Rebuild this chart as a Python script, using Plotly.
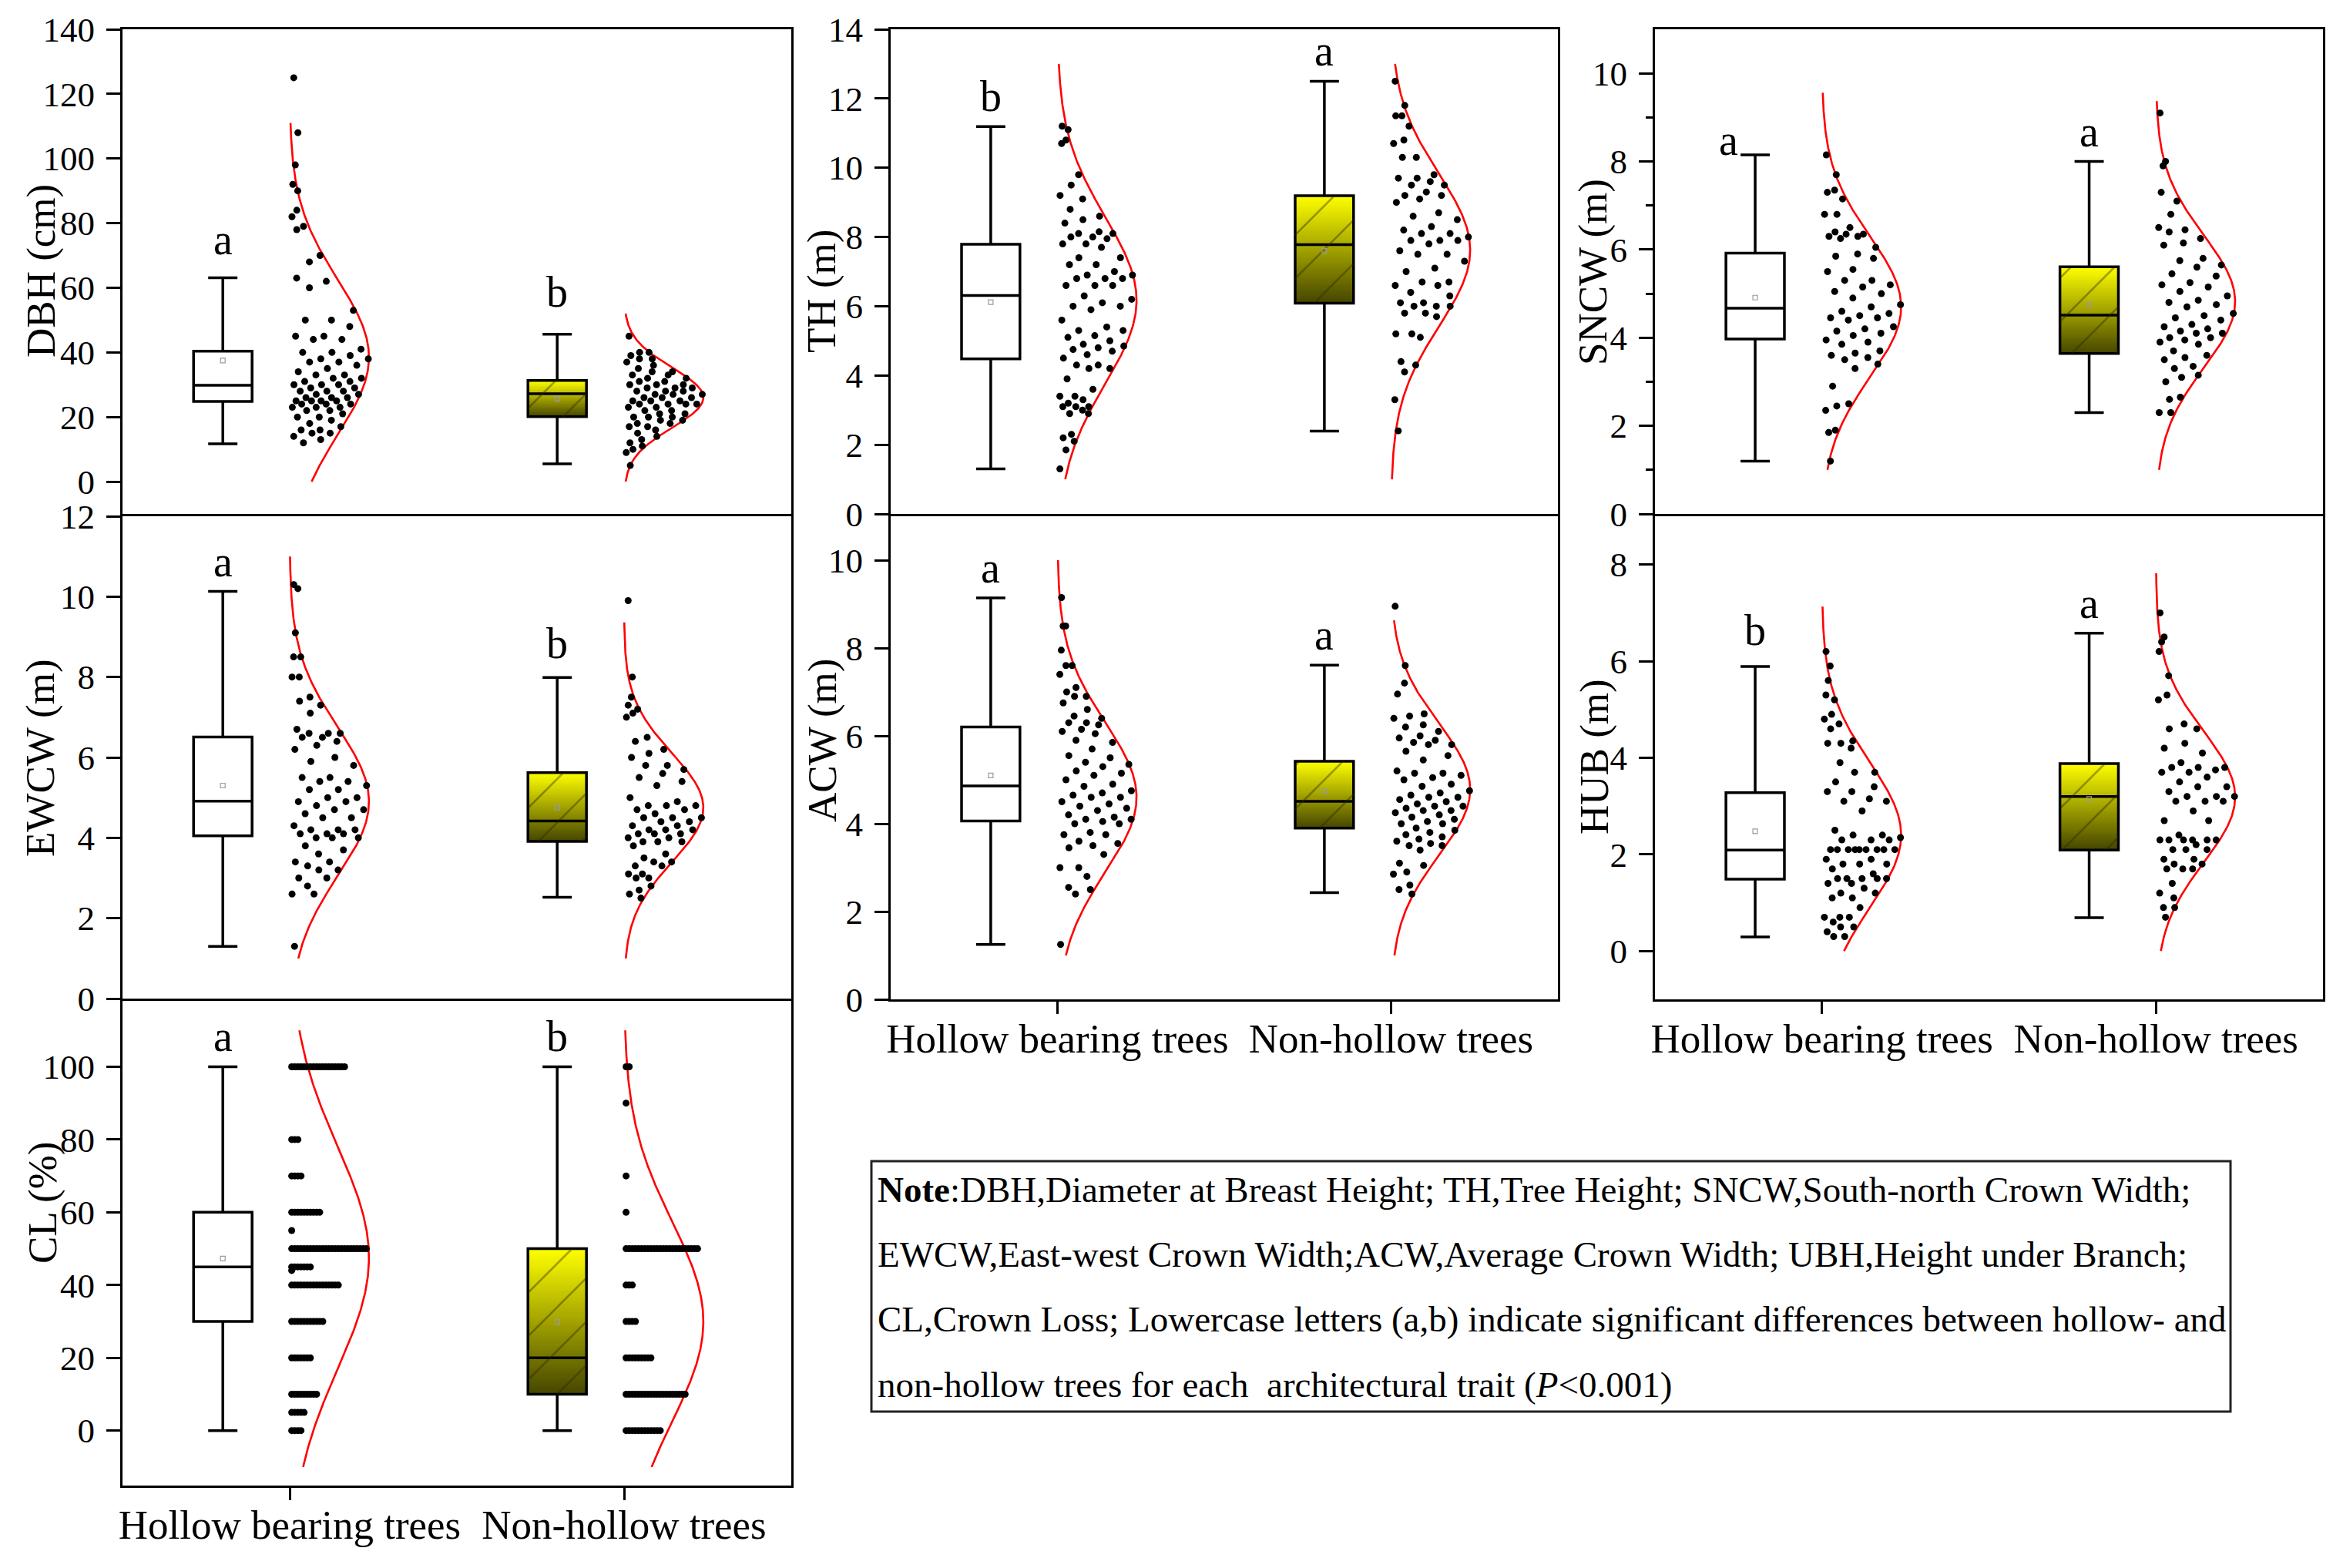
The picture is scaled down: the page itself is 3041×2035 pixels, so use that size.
import numpy as np
import plotly.graph_objects as go

W, H = 3041, 2035          # target canvas (browser window)
OFF = 8                    # default page margin of the html body
FW, FH = W - 2 * OFF, H - 2 * OFF
FONT = "Liberation Serif"


def fx(px):
    return (px - OFF) / FW


def fy(py):
    return 1 - (py - OFF) / FH


groups = ["Hollow bearing trees", "Non-hollow trees"]
traits = ["DBH", "TH", "SNCW", "EWCW", "ACW", "HUB", "CL"]
axis_titles = ["DBH (cm)", "TH (m)", "SNCW (m)", "EWCW (m)", "ACW (m)", "HUB (m)", "CL (%)"]
sig_hollow = ["a", "b", "a", "a", "a", "b", "a"]
sig_non = ["b", "a", "a", "b", "a", "a", "b"]

# ---- box statistics ----
whisker_low_hollow = [11.7, 1.30, 1.20, 1.30, 1.25, 0.29, 0]
q1_hollow = [24.8, 4.48, 3.97, 4.05, 4.06, 1.49, 30]
median_hollow = [29.8, 6.31, 4.67, 4.91, 4.86, 2.09, 45]
q3_hollow = [40.4, 7.79, 5.92, 6.51, 6.20, 3.28, 60]
whisker_high_hollow = [63.1, 11.19, 8.15, 10.13, 9.14, 5.89, 100]
mean_hollow = [37.5, 6.12, 4.91, 5.30, 5.10, 2.48, 47.3]

whisker_low_non = [5.5, 2.39, 2.30, 2.52, 2.43, 0.69, 0]
q1_non = [20.1, 6.09, 3.64, 3.91, 3.90, 2.09, 10]
median_non = [27.2, 7.78, 4.51, 4.42, 4.51, 3.20, 20]
q3_non = [31.3, 9.19, 5.61, 5.62, 5.42, 3.88, 50]
whisker_high_non = [45.6, 12.5, 8.00, 7.99, 7.61, 6.58, 100]
mean_non = [25.6, 7.60, 4.74, 4.75, 4.74, 3.15, 29.8]

# ---- normal distribution curves ----
fit_mean_hollow = [38.5, 6.17, 4.70, 4.90, 4.60, 2.40, 47.5]
fit_sd_hollow = [24.0, 2.40, 1.60, 1.85, 1.70, 1.50, 30.5]
fit_from_hollow = [0, 1, 1, 1, 1, 0, -10]
fit_to_hollow = [111, 13, 9.56, 11, 10, 7.13, 110]
fit_mean_non = [26.0, 7.62, 4.82, 4.75, 4.78, 3.19, 30]
fit_sd_non = [9.3, 2.20, 1.50, 1.35, 1.50, 1.35, 27.5]
fit_from_non = [0, 1, 1, 1, 1, 0, -10]
fit_to_non = [52, 13, 9.37, 9.36, 8.63, 7.82, 110]

dbh_hollow = [125, 108, 98, 92, 90, 84, 82, 79, 78, 70, 68, 63, 62, 60, 53, 50, 50, 48, 45, 45, 44, 44,
              41, 40, 40, 39, 38, 38, 37, 37, 36, 35, 34, 33, 33, 32, 32, 31, 31, 30, 30, 30, 29, 29,
              28, 28, 28, 27, 27, 26, 26, 26, 25, 25, 25, 25, 24, 24, 24, 23, 23, 23, 22, 22, 21, 20,
              20, 19, 18, 17, 16, 16, 15, 15, 14, 13, 12]
dbh_non = [45, 40, 40, 39, 38, 38, 37, 36, 35, 34, 34, 33, 33, 32, 32, 31, 31, 30, 30, 30, 29, 29, 29,
           28, 28, 28, 27, 27, 27, 26, 26, 26, 25, 25, 25, 24, 24, 24, 24, 23, 23, 22, 22, 21, 21, 20,
           20, 20, 19, 19, 18, 18, 17, 17, 16, 15, 14, 13, 12, 11, 10, 9, 5]
th_hollow = [11.2, 11.1, 10.8, 10.7, 9.8, 9.5, 9.2, 9.1, 8.8, 8.6, 8.5, 8.4, 8.15, 8.1, 8.1, 8.0, 8.0,
             7.95, 7.8, 7.8, 7.7, 7.4, 7.4, 7.2, 7.2, 7.0, 6.9, 6.9, 6.8, 6.8, 6.8, 6.6, 6.6, 6.6, 6.3,
             6.2, 6.1, 6.0, 6.0, 5.9, 5.6, 5.4, 5.3, 5.3, 5.15, 5.1, 5.0, 4.9, 4.85, 4.8, 4.75, 4.7,
             4.6, 4.5, 4.3, 4.3, 4.2, 4.2, 3.9, 3.6, 3.4, 3.4, 3.3, 3.2, 3.1, 3.1, 3.1, 3.0, 2.9, 2.9,
             2.3, 2.2, 2.1, 1.85, 1.3]
th_non = [12.5, 11.8, 11.5, 11.5, 11.2, 10.8, 10.7, 10.3, 10.3, 9.8, 9.7, 9.7, 9.6, 9.5, 9.5, 9.3,
          9.2, 9.2, 9.1, 9.0, 8.7, 8.6, 8.5, 8.3, 8.2, 8.1, 8.1, 8.0, 7.9, 7.9, 7.9, 7.8, 7.6, 7.5,
          7.5, 7.3, 7.1, 7.0, 6.7, 6.7, 6.6, 6.6, 6.4, 6.3, 6.1, 6.1, 6.0, 6.0, 6.0, 5.8, 5.8, 5.7,
          5.2, 5.2, 5.1, 4.4, 4.3, 4.1, 3.3, 2.4]
sncw_hollow = [8.15, 7.7, 7.35, 7.3, 7.15, 6.8, 6.8, 6.5, 6.4, 6.35, 6.35, 6.3, 6.3, 6.25, 6.05, 5.9,
               5.85, 5.8, 5.55, 5.5, 5.3, 5.3, 5.2, 5.15, 5.05, 5.0, 4.9, 4.75, 4.7, 4.6, 4.55, 4.5,
               4.45, 4.45, 4.4, 4.25, 4.2, 4.15, 4.1, 4.05, 3.95, 3.9, 3.85, 3.7, 3.65, 3.6, 3.55,
               3.5, 3.4, 3.3, 2.9, 2.5, 2.45, 2.35, 1.9, 1.85, 1.2]
sncw_non = [9.1, 8.0, 7.9, 7.3, 7.1, 6.8, 6.5, 6.45, 6.4, 6.25, 6.15, 6.1, 5.8, 5.75, 5.65, 5.6, 5.45,
            5.4, 5.25, 5.2, 5.15, 5.05, 4.95, 4.85, 4.8, 4.75, 4.7, 4.55, 4.5, 4.45, 4.4, 4.3, 4.25,
            4.2, 4.15, 4.1, 4.1, 4.0, 4.0, 3.95, 3.9, 3.85, 3.7, 3.6, 3.55, 3.5, 3.35, 3.3, 3.15, 3.1,
            3.0, 2.65, 2.6, 2.3, 2.3]
ewcw_hollow = [10.3, 10.2, 9.1, 8.5, 8.5, 8.0, 8.0, 7.5, 7.4, 7.3, 7.1, 6.7, 6.6, 6.6, 6.6, 6.5, 6.5,
               6.4, 6.3, 6.2, 6.0, 5.9, 5.8, 5.5, 5.5, 5.4, 5.4, 5.3, 5.2, 5.2, 5.0, 5.0, 4.9, 4.9, 4.8,
               4.7, 4.7, 4.6, 4.5, 4.5, 4.3, 4.2, 4.2, 4.2, 4.1, 4.1, 4.1, 4.0, 4.0, 4.0, 3.8, 3.7,
               3.6, 3.4, 3.4, 3.3, 3.2, 3.2, 3.0, 3.0, 2.8, 2.6, 2.6, 1.3]
ewcw_non = [9.9, 8.0, 7.5, 7.3, 7.2, 7.1, 7.0, 6.5, 6.4, 6.2, 6.1, 6.0, 5.8, 5.8, 5.7, 5.6, 5.5, 5.4,
            5.3, 5.0, 4.9, 4.8, 4.8, 4.8, 4.7, 4.7, 4.6, 4.5, 4.5, 4.5, 4.4, 4.4, 4.3, 4.3, 4.2, 4.2,
            4.2, 4.1, 4.1, 4.1, 4.0, 4.0, 3.9, 3.9, 3.9, 3.8, 3.6, 3.5, 3.4, 3.4, 3.3, 3.3, 3.1, 3.1,
            3.0, 3.0, 2.8, 2.7, 2.6, 2.5]
acw_hollow = [9.15, 8.5, 8.5, 7.95, 7.6, 7.6, 7.4, 7.1, 7.0, 6.9, 6.9, 6.75, 6.6, 6.45, 6.4, 6.3, 6.3,
              6.25, 6.15, 6.1, 6.05, 5.9, 5.85, 5.7, 5.55, 5.5, 5.4, 5.35, 5.3, 5.2, 5.15, 5.1, 5.0,
              4.9, 4.85, 4.75, 4.7, 4.65, 4.6, 4.6, 4.5, 4.45, 4.4, 4.35, 4.3, 4.2, 4.15, 4.1, 4.1,
              4.05, 4.0, 4.0, 3.8, 3.75, 3.75, 3.6, 3.55, 3.5, 3.45, 3.3, 3.0, 3.0, 2.8, 2.55, 2.5,
              2.4, 1.25]
acw_non = [8.95, 7.6, 7.2, 6.95, 6.5, 6.45, 6.4, 6.25, 6.2, 6.1, 6.0, 5.95, 5.9, 5.85, 5.8, 5.8, 5.65,
           5.55, 5.45, 5.2, 5.15, 5.15, 5.1, 5.05, 5.0, 4.9, 4.85, 4.75, 4.7, 4.65, 4.6, 4.6, 4.55,
           4.5, 4.45, 4.4, 4.4, 4.35, 4.3, 4.3, 4.25, 4.2, 4.15, 4.1, 4.05, 4.0, 4.0, 3.9, 3.85, 3.8,
           3.75, 3.7, 3.65, 3.6, 3.55, 3.5, 3.5, 3.4, 3.1, 3.05, 2.9, 2.85, 2.6, 2.5, 2.4]
hub_hollow = [6.2, 5.9, 5.6, 5.3, 5.2, 4.9, 4.8, 4.7, 4.6, 4.35, 4.3, 4.3, 4.2, 3.9, 3.7, 3.7, 3.5, 3.4,
              3.3, 3.3, 3.15, 3.1, 3.1, 2.9, 2.5, 2.4, 2.4, 2.35, 2.3, 2.3, 2.3, 2.1, 2.1, 2.1, 2.1,
              2.1, 2.1, 2.1, 2.1, 2.1, 1.9, 1.9, 1.8, 1.8, 1.8, 1.7, 1.6, 1.5, 1.5, 1.5, 1.5, 1.5,
              1.4, 1.4, 1.3, 1.2, 1.2, 1.1, 1.1, 0.9, 0.7, 0.7, 0.7, 0.6, 0.5, 0.5, 0.4, 0.3, 0.3]
hub_non = [7.0, 6.5, 6.4, 6.2, 5.7, 5.3, 5.2, 4.7, 4.6, 4.6, 4.3, 4.2, 4.1, 3.9, 3.8, 3.8, 3.8, 3.75,
           3.7, 3.7, 3.6, 3.5, 3.4, 3.4, 3.3, 3.2, 3.2, 3.2, 3.1, 3.1, 3.1, 2.9, 2.7, 2.7, 2.4, 2.3,
           2.3, 2.3, 2.3, 2.3, 2.3, 2.2, 2.1, 2.1, 2.1, 1.9, 1.9, 1.8, 1.8, 1.7, 1.7, 1.7, 1.4, 1.2,
           1.1, 0.9, 0.9, 0.7]
cl_levels_hollow = [100, 80, 70, 60, 55, 50, 45, 44, 40, 30, 20, 10, 5, 0]
cl_counts_hollow = [18, 3, 4, 10, 1, 25, 7, 1, 16, 11, 7, 9, 5, 4]
cl_levels_non = [100, 90, 70, 60, 50, 40, 30, 20, 10, 0]
cl_counts_non = [2, 1, 1, 1, 24, 3, 4, 9, 20, 12]

raw_hollow = {"DBH": dbh_hollow, "TH": th_hollow, "SNCW": sncw_hollow, "EWCW": ewcw_hollow,
              "ACW": acw_hollow, "HUB": hub_hollow}
raw_non = {"DBH": dbh_non, "TH": th_non, "SNCW": sncw_non, "EWCW": ewcw_non,
           "ACW": acw_non, "HUB": hub_non}

# ---- layout (pixels in the 3041 x 2035 window) ----
PANEL_PX = {  # left, right, top, bottom
    "DBH": (159, 1027, 38, 667), "EWCW": (159, 1027, 670, 1296), "CL": (159, 1027, 1299, 1928),
    "TH": (1156, 2022, 38, 667), "ACW": (1156, 2022, 670, 1297),
    "SNCW": (2148, 3015, 38, 667), "HUB": (2148, 3015, 670, 1297),
}
YAX = {  # range min, range max, tick step, last tick
    "DBH": (-10, 140, 20, 140), "TH": (0, 14, 2, 14), "SNCW": (0, 11, 2, 10),
    "EWCW": (0, 12, 2, 12), "ACW": (0, 11, 2, 10), "HUB": (-1, 9, 2, 8), "CL": (-15.1, 118.1, 20, 100),
}
MINOR_TICKS = {"SNCW": [1, 3, 5, 7, 9]}
TITLE_PX = {"DBH": (53, 352), "EWCW": (52, 984), "CL": (55, 1561), "TH": (1066, 378),
            "ACW": (1067, 961), "SNCW": (2067, 353), "HUB": (2069, 982)}
BOTTOM = {"CL", "ACW", "HUB"}
LETTER_NUDGE = {("SNCW", 0): dict(xanchor="right", xshift=-20, yshift=-14),
                ("DBH", 0): dict(yshift=16), ("DBH", 1): dict(yshift=22),
                ("HUB", 0): dict(yshift=14), ("EWCW", 1): dict(yshift=11)}

GPOS = [1.0, 2.0]
BOX_OFF = -0.2
BOX_W = 0.175
PEAK = 0.237

fig = go.Figure()
annotations = []
layout_axes = {}


def spread(vals, g, m, s):
    v = sorted(vals, reverse=True)
    xs = []
    for i, y in enumerate(v):
        f = (i * 0.6180339887 + 0.31) % 1.0
        w = max(PEAK * 0.97 * np.exp(-0.5 * ((y - m) / s) ** 2), 0.02)
        xs.append(g + 0.006 + w * f)
    return xs, v


def ties(levels, counts, g):
    xs, ys = [], []
    for lv, c in zip(levels, counts):
        for k in range(c):
            xs.append(g + 0.006 + k * 0.0093)
            ys.append(lv)
    return xs, ys


for n, t in enumerate(traits):
    i = n + 1
    xa = "x" if i == 1 else f"x{i}"
    ya = "y" if i == 1 else f"y{i}"
    l, r, tp, bt = PANEL_PX[t]
    ymin, ymax, step, tmax = YAX[t]
    tv = list(np.arange(0, tmax + 1e-9, step))
    layout_axes["xaxis" if i == 1 else f"xaxis{i}"] = dict(
        domain=[fx(l), fx(r)], range=[0.5, 2.5], anchor=ya, showgrid=False, zeroline=False,
        automargin=False, showline=True, linecolor="black", linewidth=3, mirror=True,
        ticks="outside" if t in BOTTOM else "", ticklen=16, tickwidth=3, tickcolor="black",
        tickvals=GPOS, ticktext=groups, showticklabels=t in BOTTOM,
        tickfont=dict(family=FONT, size=53, color="black"), ticklabelstandoff=-14)
    yaxis = dict(
        domain=[fy(bt), fy(tp)], range=[ymin, ymax], anchor=xa, showgrid=False,
        zeroline=False, automargin=False, showline=True, linecolor="black", linewidth=3,
        mirror=True, ticks="outside", ticklen=18, tickwidth=3, tickcolor="black",
        tickvals=tv, ticktext=[str(int(v)) for v in tv],
        tickfont=dict(family=FONT, size=45, color="black"), ticklabelstandoff=6)
    if t in MINOR_TICKS:
        yaxis["minor"] = dict(tickvals=MINOR_TICKS[t], ticks="outside", ticklen=9,
                              tickwidth=3, tickcolor="black", showgrid=False)
    layout_axes["yaxis" if i == 1 else f"yaxis{i}"] = yaxis

    stats = [
        (whisker_low_hollow[n], q1_hollow[n], median_hollow[n], q3_hollow[n], whisker_high_hollow[n],
         mean_hollow[n], fit_mean_hollow[n], fit_sd_hollow[n], fit_from_hollow[n], fit_to_hollow[n],
         sig_hollow[n]),
        (whisker_low_non[n], q1_non[n], median_non[n], q3_non[n], whisker_high_non[n],
         mean_non[n], fit_mean_non[n], fit_sd_non[n], fit_from_non[n], fit_to_non[n], sig_non[n]),
    ]
    for gi, (lo, q1, med, q3, hi, mn, fm, fs, ff, ft, sig) in enumerate(stats):
        g = GPOS[gi]
        bx = g + BOX_OFF
        if gi == 1:
            nb = 60
            edges = np.linspace(q1, q3, nb + 1)
            z = [[(k + 0.5) / nb] for k in range(nb)]
            fig.add_trace(go.Heatmap(
                x=[bx - BOX_W / 2, bx + BOX_W / 2], y=edges, z=z, zmin=0, zmax=1,
                colorscale=[[0, "#454500"], [1, "#ffff00"]], showscale=False,
                hoverinfo="skip", xaxis=xa, yaxis=ya))
            fig.add_trace(go.Scatter(
                x=[bx - BOX_W / 2, bx + BOX_W / 2, bx + BOX_W / 2, bx - BOX_W / 2, bx - BOX_W / 2],
                y=[q1, q1, q3, q3, q1], mode="lines", fill="toself", line=dict(width=0),
                fillcolor="rgba(0,0,0,0)",
                fillpattern=dict(shape="/", fgcolor="rgba(40,40,0,0.45)", bgcolor="rgba(0,0,0,0)",
                                 size=40, solidity=0.06),
                hoverinfo="skip", xaxis=xa, yaxis=ya))
        fig.add_trace(go.Box(
            x=[bx], q1=[q1], median=[med], q3=[q3], lowerfence=[lo], upperfence=[hi],
            width=BOX_W, whiskerwidth=0.5, boxpoints=False, fillcolor="rgba(0,0,0,0)",
            line=dict(color="black", width=3.5), hoverinfo="skip", xaxis=xa, yaxis=ya))
        # normal curve
        yy = np.linspace(ff, ft, 300)
        xx = g + PEAK * np.exp(-0.5 * ((yy - fm) / fs) ** 2)
        fig.add_trace(go.Scatter(x=xx, y=yy, mode="lines", line=dict(color="#ff0000", width=2.6),
                                 hoverinfo="skip", xaxis=xa, yaxis=ya))
        # points
        if t == "CL":
            if gi == 0:
                px, py = ties(cl_levels_hollow, cl_counts_hollow, g)
            else:
                px, py = ties(cl_levels_non, cl_counts_non, g)
        else:
            vals = raw_hollow[t] if gi == 0 else raw_non[t]
            px, py = spread(vals, g, fm, fs)
        fig.add_trace(go.Scatter(x=px, y=py, mode="markers",
                                 marker=dict(size=9, color="black", line=dict(width=0)),
                                 hoverinfo="skip", xaxis=xa, yaxis=ya))
        # mean marker
        fig.add_trace(go.Scatter(x=[bx], y=[mn], mode="markers",
                                 marker=dict(size=6, symbol="square-open", color="#9a9a9a",
                                             line=dict(width=1.2, color="#9a9a9a")),
                                 hoverinfo="skip", xaxis=xa, yaxis=ya))
        nud = LETTER_NUDGE.get((t, gi), {})
        annotations.append(dict(
            x=bx, y=hi, xref=xa, yref=ya, text=sig, showarrow=False,
            xanchor=nud.get("xanchor", "center"), yanchor="bottom",
            xshift=nud.get("xshift", 0), yshift=nud.get("yshift", 6),
            font=dict(family=FONT, size=56, color="black")))

    tx, ty = TITLE_PX[t]
    annotations.append(dict(x=fx(tx), y=fy(ty), xref="paper", yref="paper",
                            text=axis_titles[n], textangle=-90, showarrow=False,
                            xanchor="center", yanchor="middle",
                            font=dict(family=FONT, size=53, color="black")))

note_lines = [
    "<b>Note</b>:DBH,Diameter at Breast Height; TH,Tree Height; SNCW,South-north Crown Width;",
    "EWCW,East-west Crown Width;ACW,Average Crown Width; UBH,Height under Branch;",
    "CL,Crown Loss; Lowercase letters (a,b) indicate significant differences between hollow- and",
    "non-hollow trees for each  architectural trait (<i>P</i>&lt;0.001)",
]
NOTE_Y = [1544, 1628, 1712, 1797]
for txt, yy in zip(note_lines, NOTE_Y):
    annotations.append(dict(x=fx(1137), y=fy(yy), xref="paper", yref="paper", text=txt,
                            showarrow=False, xanchor="left", yanchor="middle",
                            font=dict(family=FONT, size=47, color="black")))

fig.update_layout(
    template="none",
    width=FW, height=FH, margin=dict(l=0, r=0, t=0, b=0, pad=0, autoexpand=False),
    paper_bgcolor="white", plot_bgcolor="white", showlegend=False, hovermode=False,
    font=dict(family=FONT, color="black"),
    annotations=annotations,
    shapes=[dict(type="rect", xref="paper", yref="paper", x0=fx(1131), x1=fx(2895),
                 y0=fy(1832), y1=fy(1507), line=dict(color="#222222", width=3))],
    **layout_axes,
)
fig.write_html("out.html")
